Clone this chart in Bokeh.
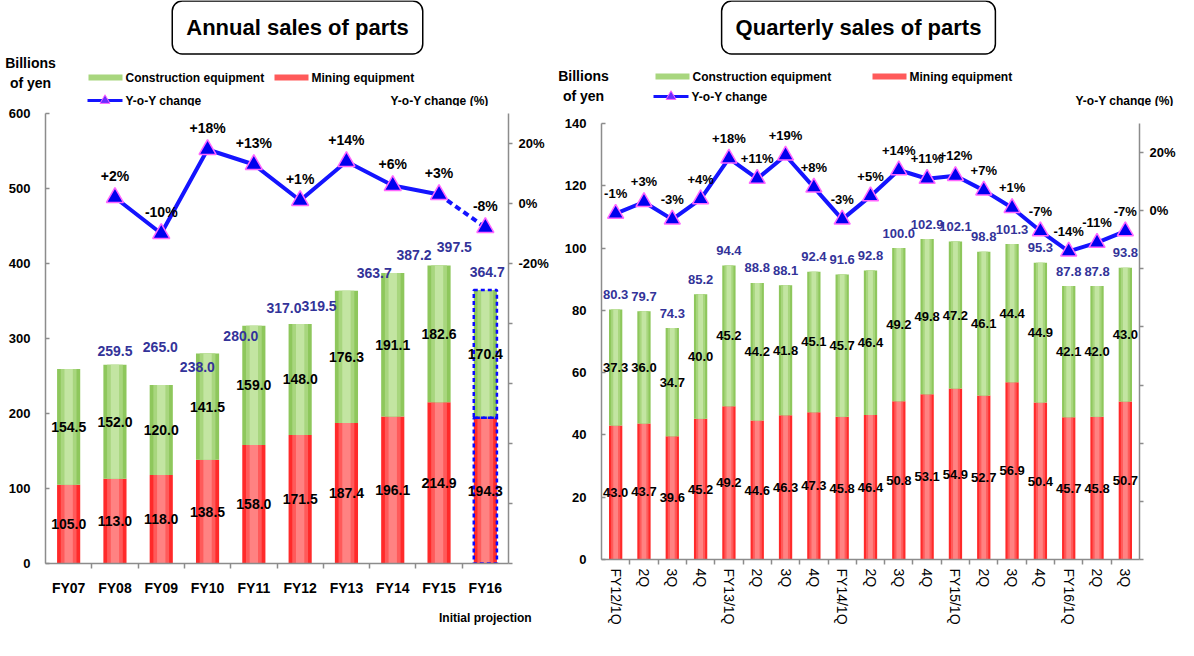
import math
import numpy as np
from bokeh.plotting import figure
from bokeh.models import (Range1d, LinearAxis, FixedTicker, CustomJSTickFormatter, Label)
from bokeh.layouts import row, column
from bokeh.embed import file_html
from bokeh.resources import INLINE
from bokeh.core.properties import value

# ---------------- data ----------------
years = ["FY07", "FY08", "FY09", "FY10", "FY11", "FY12", "FY13", "FY14", "FY15", "FY16"]
annual_mining = [105.0, 113.0, 118.0, 138.5, 158.0, 171.5, 187.4, 196.1, 214.9, 194.3]
annual_construction = [154.5, 152.0, 120.0, 141.5, 159.0, 148.0, 176.3, 191.1, 182.6, 170.4]
annual_total = [259.5, 265.0, 238.0, 280.0, 317.0, 319.5, 363.7, 387.2, 397.5, 364.7]
annual_yoy = [2, -10, 18, 13, 1, 14, 6, 3, -8]          # FY08 .. FY16

quarters = ["FY12/1Q", "2Q", "3Q", "4Q", "FY13/1Q", "2Q", "3Q", "4Q",
            "FY14/1Q", "2Q", "3Q", "4Q", "FY15/1Q", "2Q", "3Q", "4Q",
            "FY16/1Q", "2Q", "3Q"]
q_mining = [43.0, 43.7, 39.6, 45.2, 49.2, 44.6, 46.3, 47.3, 45.8, 46.4,
            50.8, 53.1, 54.9, 52.7, 56.9, 50.4, 45.7, 45.8, 50.7]
q_construction = [37.3, 36.0, 34.7, 40.0, 45.2, 44.2, 41.8, 45.1, 45.7, 46.4,
                  49.2, 49.8, 47.2, 46.1, 44.4, 44.9, 42.1, 42.0, 43.0]
q_total = [80.3, 79.7, 74.3, 85.2, 94.4, 88.8, 88.1, 92.4, 91.6, 92.8,
           100.0, 102.9, 102.1, 98.8, 101.3, 95.3, 87.8, 87.8, 93.8]
q_yoy = [-1, 3, -3, 4, 18, 11, 19, 8, -3, 5, 14, 11, 12, 7, 1, -7, -14, -11, -7]

# label nudges (category units) for the annual total labels, as placed in the source
annual_total_label_dx = [1.0, 0.98, 0.78, 0.72, 0.65, 0.41, 0.6, 0.46, 0.33, 0.04]

# ---------------- style ----------------
FONT = "Liberation Sans"
AXIS_GRAY = "#8c8c8c"
RED = ["#ff2a2a", "#ff5a5a", "#ff8282"]
GREEN = ["#8ec75c", "#a8d67e", "#c3e5a2"]
TOTAL_BLUE = "#333399"
LINE_BLUE = "#1414ff"
HEADER_H = 106
TOTAL_H = 640
W_LEFT = 556
W_RIGHT = 622


def base_fig(width, height, n, ymax, borders):
    l, r, t, b = borders
    p = figure(width=width, height=height, x_range=Range1d(0, n), y_range=Range1d(0, ymax),
               output_backend="svg", toolbar_location=None, frame_align=False,
               min_border_left=l, min_border_right=r, min_border_top=t, min_border_bottom=b)
    p.outline_line_color = None
    p.xgrid.visible = False
    p.ygrid.visible = False
    return p


def header_fig(width):
    h = figure(width=width, height=HEADER_H, x_range=Range1d(0, width),
               y_range=Range1d(HEADER_H, 0), output_backend="svg", toolbar_location=None,
               x_axis_location=None, y_axis_location=None, frame_align=False,
               min_border=0, min_border_left=0, min_border_right=0,
               min_border_top=0, min_border_bottom=0)
    h.outline_line_color = None
    h.xgrid.visible = False
    h.ygrid.visible = False
    return h


def style_axis(ax):
    ax.axis_line_color = AXIS_GRAY
    ax.axis_line_width = 1.5
    ax.major_tick_line_color = AXIS_GRAY
    ax.major_tick_line_width = 1.5
    ax.minor_tick_line_color = AXIS_GRAY
    ax.minor_tick_line_width = 1.5
    ax.major_label_text_font = FONT
    ax.major_label_text_font_style = "bold"
    ax.major_label_text_font_size = "13px"
    ax.major_label_text_color = "black"


def gradient_bars(p, x, bottom, top, width, colors):
    rs = []
    for frac, col in zip([1.0, 0.68, 0.36], colors):
        rs.append(p.vbar(x=x, bottom=bottom, top=top, width=width * frac,
                         fill_color=col, line_color=None))
    return rs


def hlabel(h, x, y, text, size="13px", align="center", **kw):
    h.add_layout(Label(x=x, y=y, text=text, text_font=FONT, text_font_style="bold",
                       text_font_size=size, text_align=align, text_baseline="middle",
                       text_color="black", **kw))


def header(h, title, title_x, billions_x, billions_y, leg, yoy_axis_x, yoy_axis_y):
    hlabel(h, title_x, 27, title, size="22px",
           border_line_color="black", border_line_width=1.5, border_radius=10,
           padding=14, background_fill_color="white")
    hlabel(h, billions_x, billions_y, "Billions", size="14px")
    hlabel(h, billions_x, billions_y + 20, "of yen", size="14px")
    (gx, rx, ry), (lx, ly) = leg
    h.quad(left=[gx], right=[gx + 34], top=[ry - 3], bottom=[ry + 3],
           fill_color=GREEN[1], line_color=None)
    hlabel(h, gx + 37, ry, "Construction equipment", size="12px", align="left")
    h.quad(left=[rx], right=[rx + 34], top=[ry - 3], bottom=[ry + 3],
           fill_color=RED[1], line_color=None)
    hlabel(h, rx + 37, ry, "Mining equipment", size="12px", align="left")
    h.line([lx, lx + 35], [ly, ly], line_color=LINE_BLUE, line_width=3)
    h.scatter([lx + 17.5], [ly], marker="triangle", size=10,
              fill_color="#6a2cff", line_color="#ff66ff", line_width=1)
    hlabel(h, lx + 38, ly, "Y-o-Y change", size="12px", align="left")
    hlabel(h, yoy_axis_x, yoy_axis_y, "Y-o-Y change (%)", size="12px", align="left")


def setup_axes(p, n, names, ymax, ystep, yoy_min_label, rotate):
    xt = FixedTicker(ticks=[i + 0.5 for i in range(n)], minor_ticks=list(range(1, n)))
    xa = p.xaxis[0]
    xa.ticker = xt
    xa.formatter = CustomJSTickFormatter(args=dict(names=names),
                                         code="const i = Math.floor(tick); return names[i] || '';")
    style_axis(xa)
    xa.major_tick_line_color = None
    xa.minor_tick_in = 0
    xa.minor_tick_out = 5
    xa.major_label_text_font_size = "14px"
    if rotate:
        xa.major_label_orientation = -math.pi / 2
        xa.major_label_text_font_style = "normal"
        xa.major_label_standoff = 3
    else:
        xa.major_label_standoff = 10

    ya = p.yaxis[0]
    ya.ticker = FixedTicker(ticks=list(np.arange(0, ymax + 1, ystep)))
    style_axis(ya)
    ya.major_tick_in = 4
    ya.major_tick_out = 0
    ya.minor_tick_line_color = None
    ya.major_label_standoff = 15

    p.extra_y_ranges = {"yoy": Range1d(-120, 30)}
    ra = LinearAxis(y_range_name="yoy", ticker=FixedTicker(ticks=list(range(-120, 21, 20))),
                    formatter=CustomJSTickFormatter(
                        args=dict(lo=yoy_min_label),
                        code="return (tick >= lo) ? tick + '%' : '';"))
    style_axis(ra)
    ra.major_tick_in = 0
    ra.major_tick_out = 4
    ra.minor_tick_line_color = None
    ra.major_label_standoff = 6
    p.add_layout(ra, "right")


def text_layer(p, x, y, labels, size, color="black", **kw):
    p.text(x=x, y=y, text=labels, text_font=value(FONT), text_font_style="bold",
           text_font_size=size, text_align="center", text_baseline="middle",
           text_color=color, **kw)


# ================= Annual chart =================
na = len(years)
xa_pos = np.arange(na) + 0.5
top_a = 113 - HEADER_H
pa = base_fig(W_LEFT, TOTAL_H - HEADER_H, na, 600,
              (45, W_LEFT - 508, top_a, TOTAL_H - HEADER_H - top_a - 450))
setup_axes(pa, na, years, 600, 100, -20, False)

# "Initial projection" under FY16
proj_axis = LinearAxis(ticker=FixedTicker(ticks=[xa_pos[-1]]),
                       formatter=CustomJSTickFormatter(code="return 'Initial projection';"))
proj_axis.axis_line_color = None
proj_axis.major_tick_line_color = None
proj_axis.minor_tick_line_color = None
proj_axis.major_label_standoff = 6
proj_axis.major_label_text_font = FONT
proj_axis.major_label_text_font_style = "bold"
proj_axis.major_label_text_font_size = "12px"
proj_axis.major_label_text_color = "black"
pa.add_layout(proj_axis, "below")

bar_w = 0.5
am = np.array(annual_mining)
ac = np.array(annual_construction)
gradient_bars(pa, xa_pos, 0, am, bar_w, RED)
gradient_bars(pa, xa_pos, am, am + ac, bar_w, GREEN)

# projection outline (FY16)
pa.vbar(x=[xa_pos[-1]] * 2, bottom=[0, am[-1]], top=[am[-1], am[-1] + ac[-1]], width=bar_w,
        fill_color=None, line_color="#0a0aff", line_width=2.5, line_dash="4 3")

text_layer(pa, xa_pos, am / 2, [f"{v:.1f}" for v in annual_mining], "14px")
text_layer(pa, xa_pos, am + ac / 2, [f"{v:.1f}" for v in annual_construction], "14px")
text_layer(pa, xa_pos + np.array(annual_total_label_dx), annual_total,
           [f"{v:.1f}" for v in annual_total], "14px", TOTAL_BLUE, y_offset=-18)

yx = xa_pos[1:]
yy = np.array(annual_yoy)
pa.line(yx[:-1], yy[:-1], y_range_name="yoy", line_color=LINE_BLUE, line_width=4)
pa.line(yx[-2:], yy[-2:], y_range_name="yoy", line_color=LINE_BLUE, line_width=4, line_dash="6 4")
pa.scatter(yx, yy, y_range_name="yoy", marker="triangle", size=17,
           fill_color="#0000ee", line_color="#ff66ff", line_width=1.5)
text_layer(pa, yx, yy, [f"{v:+d}%" for v in annual_yoy], "14px", y_range_name="yoy", y_offset=-22)

ha = header_fig(W_LEFT)
header(ha, "Annual sales of parts", 297, 30, 62, ((88, 274, 77), (87, 100)), 390, 100)

# ================= Quarterly chart =================
nq = len(quarters)
xq = np.arange(nq) + 0.5
top_q = 123 - HEADER_H
pq = base_fig(W_RIGHT, TOTAL_H - HEADER_H, nq, 140,
              (601 - W_LEFT, W_LEFT + W_RIGHT - 1142, top_q, TOTAL_H - HEADER_H - top_q - 436))
setup_axes(pq, nq, quarters, 140, 20, 0, True)

qbw = 0.47
qm = np.array(q_mining)
qc = np.array(q_construction)
gradient_bars(pq, xq, 0, qm, qbw, RED)
gradient_bars(pq, xq, qm, qm + qc, qbw, GREEN)

text_layer(pq, xq, qm / 2, [f"{v:.1f}" for v in q_mining], "13px")
text_layer(pq, xq, qm + qc / 2, [f"{v:.1f}" for v in q_construction], "13px")
text_layer(pq, xq, q_total, [f"{v:.1f}" for v in q_total], "13px", TOTAL_BLUE, y_offset=-15)

pq.line(xq, q_yoy, y_range_name="yoy", line_color=LINE_BLUE, line_width=4)
pq.scatter(xq, q_yoy, y_range_name="yoy", marker="triangle", size=16,
           fill_color="#0000ee", line_color="#ff66ff", line_width=1.5)
text_layer(pq, xq, q_yoy, [f"{v:+d}%" for v in q_yoy], "13px", y_range_name="yoy", y_offset=-20)

hq = header_fig(W_RIGHT)
header(hq, "Quarterly sales of parts", 858 - W_LEFT, 583 - W_LEFT, 75,
       ((655 - W_LEFT, 872 - W_LEFT, 76), (653 - W_LEFT, 96)), 1075 - W_LEFT, 100)

layout = row(column(ha, pa), column(hq, pq))
open("out.html", "w").write(file_html(layout, INLINE))
